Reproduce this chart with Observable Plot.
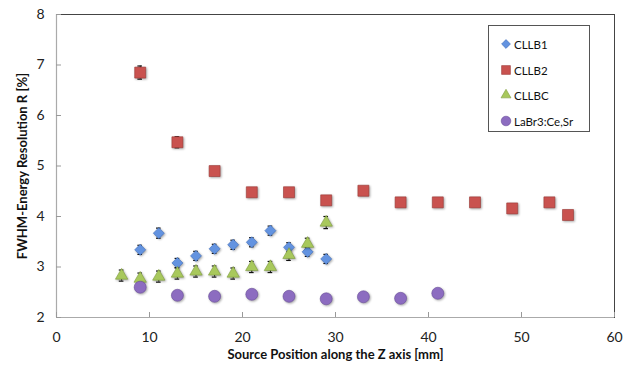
<!DOCTYPE html>
<html>
<head>
<meta charset="utf-8">
<script src="https://cdn.jsdelivr.net/npm/d3@7"></script>
<script src="https://cdn.jsdelivr.net/npm/@observablehq/plot@0.6"></script>
<style>
  html, body { margin: 0; padding: 0; background: #fff; }
  #wrap { position: relative; width: 633px; height: 367px; font-family: Lato, "Open Sans", sans-serif; }
  #wrap svg g[aria-label="dot"] { filter: drop-shadow(1px 1.5px 1px rgba(0,0,0,0.35)); }
  #legend { position: absolute; left: 488px; top: 25px; width: 102px; height: 107px; border: 1px solid #555; background: #fff; box-sizing: border-box; }
  #legend .row { position: absolute; left: 0; height: 14px; display: flex; align-items: center; font-size: 11.5px; color: #111; }
  #legend svg { margin-left: 11px; margin-right: 2px; overflow: visible; }
</style>
</head>
<body>
<div id="wrap"></div>
<script>
// Data
const zCLLB1 = [9, 11, 13, 15, 17, 19, 21, 23, 25, 27, 29];
const rCLLB1 = [3.34, 3.67, 3.08, 3.22, 3.36, 3.44, 3.49, 3.72, 3.39, 3.30, 3.16];
const eCLLB1 = [0.09, 0.1, 0.09, 0.09, 0.09, 0.09, 0.09, 0.09, 0.09, 0.09, 0.09];

const zCLLB2 = [9, 13, 17, 21, 25, 29, 33, 37, 41, 45, 49, 53, 55];
const rCLLB2 = [6.85, 5.47, 4.90, 4.48, 4.48, 4.32, 4.51, 4.28, 4.28, 4.28, 4.16, 4.28, 4.03];
const eCLLB2 = [0.13, 0.11, 0.08, 0.08, 0.08, 0.08, 0.08, 0.08, 0.08, 0.08, 0.08, 0.08, 0.08];

const zCLLBC = [7, 9, 11, 13, 15, 17, 19, 21, 23, 25, 27, 29];
const rCLLBC = [2.83, 2.77, 2.81, 2.87, 2.91, 2.91, 2.87, 3.00, 3.00, 3.24, 3.46, 3.88];
const eCLLBC = [0.11, 0.11, 0.11, 0.11, 0.11, 0.11, 0.11, 0.11, 0.11, 0.11, 0.11, 0.12];

const zLaBr = [9, 13, 17, 21, 25, 29, 33, 37, 41];
const rLaBr = [2.60, 2.44, 2.42, 2.46, 2.42, 2.37, 2.41, 2.38, 2.48];

const seriesNames = ["CLLB1", "CLLB2", "CLLBC", "LaBr3:Ce,Sr"];
const xTicks = [0, 10, 20, 30, 40, 50, 60];
const yTicks = [2, 3, 4, 5, 6, 7, 8];

const colors = {"CLLB1": "#6393E0", "CLLB2": "#C9524F", "CLLBC": "#A8C85C", "LaBr3:Ce,Sr": "#8C6CC0"};
const strokes = {"CLLB1": "#3F6DB8", "CLLB2": "#9A3734", "CLLBC": "#7E9C3C", "LaBr3:Ce,Sr": "#6A4E9A"};

const diamond = {
  draw(context, size) {
    const h = Math.sqrt(size / 2);
    context.moveTo(0, -h); context.lineTo(h, 0); context.lineTo(0, h); context.lineTo(-h, 0); context.closePath();
  }
};
const symbols = {"CLLB1": diamond, "CLLB2": "square", "CLLBC": "triangle", "LaBr3:Ce,Sr": "circle"};
const radii = {"CLLB1": 4.4, "CLLB2": 6.2, "CLLBC": 4.6, "LaBr3:Ce,Sr": 6};

function rows(name, zs, rs, es) {
  return zs.map((z, i) => ({series: name, z, r: rs[i], e: es ? es[i] : 0}));
}
const data = [
  ...rows("CLLB1", zCLLB1, rCLLB1, eCLLB1),
  ...rows("CLLB2", zCLLB2, rCLLB2, eCLLB2),
  ...rows("CLLBC", zCLLBC, rCLLBC, eCLLBC),
  ...rows("LaBr3:Ce,Sr", zLaBr, rLaBr, null)
];
const withErr = data.filter(d => d.e > 0);

const capHalf = 0.25;
const marks = [];
// error bars drawn behind markers (only the caps peek out)
marks.push(Plot.ruleX(withErr, {x: "z", y1: d => d.r - d.e, y2: d => d.r + d.e, stroke: "#111", strokeWidth: 1}));
marks.push(Plot.ruleY(withErr, {y: d => d.r + d.e, x1: d => d.z - capHalf, x2: d => d.z + capHalf, stroke: "#111", strokeWidth: 1.2}));
marks.push(Plot.ruleY(withErr, {y: d => d.r - d.e, x1: d => d.z - capHalf, x2: d => d.z + capHalf, stroke: "#111", strokeWidth: 1.2}));
for (const name of seriesNames) {
  marks.push(Plot.dot(data.filter(d => d.series === name), {
    x: "z", y: "r", symbol: () => symbols[name], r: radii[name],
    fill: colors[name], stroke: strokes[name], strokeWidth: 0.6, fillOpacity: 1
  }));
}

const chart = Plot.plot({
  width: 633,
  height: 367,
  marginLeft: 56,
  marginRight: 19,
  marginTop: 14,
  marginBottom: 50,
  style: {fontFamily: "Lato, 'Open Sans', sans-serif", background: "#fff", overflow: "visible"},
  x: {domain: [0, 60], ticks: xTicks},
  y: {domain: [2, 8], ticks: yTicks},
  marks: [
    Plot.frame({stroke: "#444", strokeWidth: 1}),
    Plot.ruleX([0], {stroke: "#aaa", strokeWidth: 1.2}),
    Plot.ruleY([2], {stroke: "#aaa", strokeWidth: 1.2}),
    // inward ticks
    Plot.axisY(yTicks, {tickSize: 5, text: null, dx: 5, stroke: "#999", label: null}),
    Plot.axisX(xTicks, {tickSize: 5, text: null, dy: -5, stroke: "#999", label: null}),
    // tick labels
    Plot.axisY(yTicks, {tickSize: 0, tickPadding: 12, fontSize: 14, fill: "#222", label: null, tickFormat: d3.format("d")}),
    Plot.axisX(xTicks, {tickSize: 0, tickPadding: 15, fontSize: 14, fill: "#222", label: null, tickFormat: d3.format("d")}),
    ...marks,
    Plot.text(["Source Position along the Z axis [mm]"], {frameAnchor: "bottom", dy: 41, fontSize: 13, fontWeight: "bold", fill: "#111"}),
    Plot.text(["FWHM-Energy Resolution R [%]"], {frameAnchor: "left", dx: -34, rotate: -90, textAnchor: "middle", fontSize: 13, fontWeight: "bold", fill: "#111"})
  ]
});

const wrap = document.getElementById("wrap");
wrap.appendChild(chart);

// Legend (inside plot area, as in the reference)
const legend = document.createElement("div");
legend.id = "legend";
const rowTops = [11, 37, 62, 88];
seriesNames.forEach((name, i) => {
  const row = document.createElement("div");
  row.className = "row";
  row.style.top = rowTops[i] + "px";
  const s = d3.create("svg").attr("width", 12).attr("height", 12);
  const sym = typeof symbols[name] === "string"
    ? {square: d3.symbolSquare, triangle: d3.symbolTriangle, circle: d3.symbolCircle}[symbols[name]]
    : symbols[name];
  const rr = radii[name] * 0.8;
  s.append("path")
    .attr("transform", "translate(6,6)")
    .attr("d", d3.symbol(sym, Math.PI * rr * rr)())
    .attr("fill", colors[name]).attr("stroke", strokes[name]).attr("stroke-width", 0.6);
  row.appendChild(s.node());
  const t = document.createElement("span");
  t.textContent = name;
  row.appendChild(t);
  legend.appendChild(row);
});
wrap.appendChild(legend);
</script>
</body>
</html>
